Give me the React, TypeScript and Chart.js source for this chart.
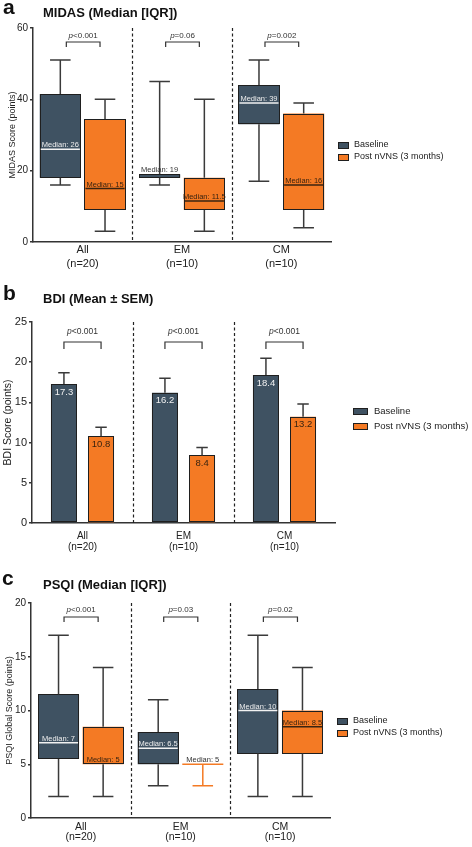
import React, { useEffect, useRef } from "react";
import { Chart, registerables } from "chart.js";

Chart.register(...registerables);

const FONT = "'Liberation Sans', Arial, Helvetica, sans-serif";
const TXT = "#222222";
const AXIS = "#333333";
const WHISKER = "#3a3a3a";
const BORDER = "#1f1f1f";

// ---------- shared ----------
const groupLabels = [
  ["All", "(n=20)"],
  ["EM", "(n=10)"],
  ["CM", "(n=10)"],
];
const seriesNames = ["Baseline", "Post nVNS (3 months)"];
const seriesColors = ["#3f5262", "#f47a24"];

// ---------- panel a: MIDAS (median [IQR]) ----------
const midasTicks = [0, 20, 40, 60];
const midasBaseMin = [16, 16, 17];
const midasBaseQ1 = [18, 18, 33];
const midasBaseMed = [26, 19, 39];
const midasBaseQ3 = [41.5, 19, 44];
const midasBaseMax = [51, 45, 51];
const midasPostMin = [3, 3, 4];
const midasPostQ1 = [9, 9, 9];
const midasPostMed = [15, 11.5, 16];
const midasPostQ3 = [34.5, 18, 36];
const midasPostMax = [40, 40, 39];
const midasP = ["<0.001", "=0.06", "=0.002"];

// ---------- panel b: BDI (mean ± SEM) ----------
const bdiTicks = [0, 5, 10, 15, 20, 25];
const bdiBaseMean = [17.3, 16.2, 18.4];
const bdiBaseSemTop = [18.7, 18.0, 20.5];
const bdiPostMean = [10.8, 8.4, 13.2];
const bdiPostSemTop = [11.9, 9.4, 14.8];
const bdiP = ["<0.001", "<0.001", "<0.001"];

// ---------- panel c: PSQI (median [IQR]) ----------
const psqiTicks = [0, 5, 10, 15, 20];
const psqiBaseMin = [2, 3, 2];
const psqiBaseQ1 = [5.5, 5, 6];
const psqiBaseMed = [7, 6.5, 10];
const psqiBaseQ3 = [11.5, 8, 12];
const psqiBaseMax = [17, 11, 17];
const psqiPostMin = [2, 3, 2];
const psqiPostQ1 = [5, 5, 6];
const psqiPostMed = [5, 5, 8.5];
const psqiPostQ3 = [8.5, 5, 10];
const psqiPostMax = [14, 5, 14];
const psqiP = ["<0.001", "=0.03", "=0.02"];

type Geom = {
  H: number;
  left: number;
  right: number;
  top: number;
  bottom: number;
};

type Deco = {
  letter: string;
  letterX: number;
  letterY: number;
  title: string;
  titleX: number;
  titleY: number;
  pVals: string[];
  pSize: number;
  pTextDy: number;
  bracketDy: number;
  bracketTick: number;
  insetL: number;
  insetR: number;
  legX: number;
  legY: number;
  legGap: number;
  legBoxW: number;
  legBoxH: number;
  legTextX: number;
  legSize: number;
};

type Fonts = {
  x: number;
  xLH: number;
  xPad: number;
  y: number;
  yt: number;
  ytPad: number;
};

function baseOptions(g: Geom, ticks: number[], yTitle: string, f: Fonts): any {
  return {
    responsive: false,
    animation: false,
    events: [],
    layout: { padding: { left: 0, top: g.top, right: 472 - g.right, bottom: 0 } },
    plugins: {
      legend: { display: false },
      tooltip: { enabled: false },
      title: { display: false },
    },
    scales: {
      x: {
        type: "category",
        offset: true,
        grid: { display: false, drawTicks: false },
        border: { display: true, color: AXIS, width: 1.5 },
        ticks: {
          color: TXT,
          font: { family: FONT, size: f.x, lineHeight: f.xLH },
          padding: f.xPad,
          maxRotation: 0,
          autoSkip: false,
        },
        afterFit: (s: any) => {
          s.height = g.H - g.bottom;
        },
      },
      y: {
        type: "linear",
        min: ticks[0],
        max: ticks[ticks.length - 1],
        afterBuildTicks: (s: any) => {
          s.ticks = ticks.map((v) => ({ value: v }));
        },
        ticks: { color: TXT, font: { family: FONT, size: f.y }, padding: 2 },
        grid: {
          drawOnChartArea: false,
          drawTicks: true,
          tickLength: 3,
          color: AXIS,
          lineWidth: 1.5,
        },
        border: { display: true, color: AXIS, width: 1.5 },
        title: {
          display: true,
          text: yTitle,
          color: TXT,
          font: { family: FONT, size: f.yt },
          padding: { top: f.ytPad, bottom: 0 },
        },
        afterFit: (s: any) => {
          s.width = g.left;
        },
      },
    },
  };
}

function drawP(ctx: CanvasRenderingContext2D, cx: number, cy: number, rest: string, size: number) {
  ctx.font = `italic ${size}px ${FONT}`;
  const wp = ctx.measureText("p").width;
  ctx.font = `${size}px ${FONT}`;
  const wr = ctx.measureText(rest).width;
  const x0 = cx - (wp + wr) / 2;
  ctx.textAlign = "left";
  ctx.textBaseline = "middle";
  ctx.fillStyle = "#333";
  ctx.font = `italic ${size}px ${FONT}`;
  ctx.fillText("p", x0, cy);
  ctx.font = `${size}px ${FONT}`;
  ctx.fillText(rest, x0 + wp, cy);
}

function outline(ctx: CanvasRenderingContext2D, el: any) {
  const l = Math.round(el.x - el.width / 2) + 0.5;
  const r = Math.round(el.x + el.width / 2) - 0.5;
  const t = Math.round(Math.min(el.y, el.base)) + 0.5;
  const b = Math.round(Math.max(el.y, el.base)) - 0.5;
  ctx.strokeStyle = BORDER;
  ctx.lineWidth = 1;
  ctx.setLineDash([]);
  ctx.strokeRect(l, t, r - l, Math.max(b - t, 0));
}

function decoPlugin(d: Deco) {
  return {
    id: "deco",
    beforeDatasetsDraw(chart: any) {
      const ctx = chart.ctx as CanvasRenderingContext2D;
      const xs = chart.scales.x;
      const ca = chart.chartArea;
      ctx.save();
      ctx.strokeStyle = "#222";
      ctx.lineWidth = 1.2;
      ctx.setLineDash([3, 2.5]);
      const n = chart.data.labels.length;
      for (let i = 0; i < n - 1; i++) {
        const x = Math.round(xs.getPixelForValue(i + 0.5)) + 0.5;
        ctx.beginPath();
        ctx.moveTo(x, ca.top);
        ctx.lineTo(x, ca.bottom);
        ctx.stroke();
      }
      ctx.restore();
    },
    afterDraw(chart: any) {
      const ctx = chart.ctx as CanvasRenderingContext2D;
      const ca = chart.chartArea;
      ctx.save();
      // panel letter + title
      ctx.fillStyle = "#111";
      ctx.textAlign = "left";
      ctx.textBaseline = "alphabetic";
      ctx.font = `bold 21px ${FONT}`;
      ctx.fillText(d.letter, d.letterX, d.letterY);
      ctx.font = `bold 13px ${FONT}`;
      ctx.fillText(d.title, d.titleX, d.titleY);

      // p-value brackets
      const m0 = chart.getDatasetMeta(0);
      const m1 = chart.getDatasetMeta(1);
      ctx.strokeStyle = "#333";
      ctx.lineWidth = 1.2;
      d.pVals.forEach((p, i) => {
        const x1 = m0.data[i].x + d.insetL;
        const x2 = m1.data[i].x - d.insetR;
        const yb = ca.top + d.bracketDy;
        ctx.beginPath();
        ctx.moveTo(x1, yb + d.bracketTick);
        ctx.lineTo(x1, yb);
        ctx.lineTo(x2, yb);
        ctx.lineTo(x2, yb + d.bracketTick);
        ctx.stroke();
        drawP(ctx, (x1 + x2) / 2, ca.top + d.pTextDy, p, d.pSize);
      });

      // legend
      chart.data.datasets.forEach((ds: any, i: number) => {
        const cy = Math.round(d.legY + i * d.legGap);
        const by = Math.round(cy - d.legBoxH / 2);
        ctx.fillStyle = seriesColors[i];
        ctx.fillRect(d.legX, by, d.legBoxW, d.legBoxH);
        ctx.strokeStyle = BORDER;
        ctx.lineWidth = 1;
        ctx.strokeRect(d.legX + 0.5, by + 0.5, d.legBoxW - 1, d.legBoxH - 1);
        ctx.fillStyle = "#222";
        ctx.font = `${d.legSize}px ${FONT}`;
        ctx.textBaseline = "middle";
        ctx.fillText(ds.label, d.legTextX, cy);
      });
      ctx.restore();
    },
  };
}

type BoxStats = { min: number[]; q1: number[]; med: number[]; q3: number[]; max: number[] };

function boxPlugin(stats: BoxStats[], labelSize: number) {
  return {
    id: "boxExtras",
    afterDatasetsDraw(chart: any) {
      const ctx = chart.ctx as CanvasRenderingContext2D;
      const ys = chart.scales.y;
      ctx.save();
      stats.forEach((s, di) => {
        const meta = chart.getDatasetMeta(di);
        const color = seriesColors[di];
        meta.data.forEach((el: any, i: number) => {
          const x = el.x;
          const w = el.width;
          const pMin = ys.getPixelForValue(s.min[i]);
          const pQ1 = ys.getPixelForValue(s.q1[i]);
          const pMed = ys.getPixelForValue(s.med[i]);
          const pQ3 = ys.getPixelForValue(s.q3[i]);
          const pMax = ys.getPixelForValue(s.max[i]);
          const degenerate = s.q1[i] === s.q3[i];
          if (!degenerate) outline(ctx, el);
          ctx.strokeStyle = degenerate ? color : WHISKER;
          ctx.lineWidth = 1.5;
          ctx.setLineDash([]);
          if (s.max[i] > s.q3[i]) {
            ctx.beginPath();
            ctx.moveTo(x, pQ3);
            ctx.lineTo(x, pMax);
            ctx.moveTo(x - w / 4, pMax);
            ctx.lineTo(x + w / 4, pMax);
            ctx.stroke();
          }
          if (s.min[i] < s.q1[i]) {
            ctx.beginPath();
            ctx.moveTo(x, pQ1);
            ctx.lineTo(x, pMin);
            ctx.moveTo(x - w / 4, pMin);
            ctx.lineTo(x + w / 4, pMin);
            ctx.stroke();
          }
          if (degenerate) {
            ctx.strokeStyle = color;
            ctx.beginPath();
            ctx.moveTo(x - w / 2, pMed);
            ctx.lineTo(x + w / 2, pMed);
            ctx.stroke();
          } else if (s.med[i] !== s.q1[i] && s.med[i] !== s.q3[i]) {
            ctx.strokeStyle = di === 0 ? "#f2f2f2" : "#3a2410";
            ctx.beginPath();
            ctx.moveTo(x - w / 2 + 1, pMed);
            ctx.lineTo(x + w / 2 - 1, pMed);
            ctx.stroke();
          }
          const inside = !degenerate && pMed - pQ3 >= 9;
          const ly = inside ? pMed - 2 : Math.min(pQ3, pMed) - 2;
          ctx.fillStyle = inside ? (di === 0 ? "#eeeeee" : "#3a2410") : "#333";
          ctx.font = `${labelSize}px ${FONT}`;
          ctx.textAlign = "center";
          ctx.textBaseline = "alphabetic";
          ctx.fillText(`Median: ${s.med[i]}`, x, ly);
        });
      });
      ctx.restore();
    },
  };
}

function errPlugin(semTops: number[][], labelSize: number) {
  return {
    id: "errExtras",
    afterDatasetsDraw(chart: any) {
      const ctx = chart.ctx as CanvasRenderingContext2D;
      const ys = chart.scales.y;
      ctx.save();
      semTops.forEach((tops, di) => {
        const meta = chart.getDatasetMeta(di);
        const vals = chart.data.datasets[di].data as number[];
        meta.data.forEach((el: any, i: number) => {
          const x = el.x;
          const w = el.width;
          outline(ctx, el);
          const pTop = ys.getPixelForValue(tops[i]);
          const pVal = ys.getPixelForValue(vals[i]);
          ctx.strokeStyle = WHISKER;
          ctx.lineWidth = 1.5;
          ctx.beginPath();
          ctx.moveTo(x, pVal);
          ctx.lineTo(x, pTop);
          ctx.moveTo(x - w * 0.22, pTop);
          ctx.lineTo(x + w * 0.22, pTop);
          ctx.stroke();
          ctx.fillStyle = di === 0 ? "#f2f2f2" : "#3a2410";
          ctx.font = `${labelSize}px ${FONT}`;
          ctx.textAlign = "center";
          ctx.textBaseline = "middle";
          ctx.fillText(vals[i].toFixed(1), x, pVal + 8);
        });
      });
      ctx.restore();
    },
  };
}

function boxDatasets(stats: BoxStats[], catPct: number, barPct: number) {
  return stats.map((s, di) => ({
    label: seriesNames[di],
    data: s.q1.map((q, i) => [q, s.q3[i]]),
    backgroundColor: seriesColors[di],
    borderWidth: 0,
    borderSkipped: false,
    categoryPercentage: catPct,
    barPercentage: barPct,
  }));
}

// ---------- configs ----------
const geomA: Geom = { H: 278, left: 33, right: 331, top: 28, bottom: 242 };
const geomB: Geom = { H: 278, left: 32, right: 335, top: 44, bottom: 245 };
const geomC: Geom = { H: 291, left: 31, right: 330, top: 47, bottom: 262 };

function configA(): any {
  const stats: BoxStats[] = [
    { min: midasBaseMin, q1: midasBaseQ1, med: midasBaseMed, q3: midasBaseQ3, max: midasBaseMax },
    { min: midasPostMin, q1: midasPostQ1, med: midasPostMed, q3: midasPostQ3, max: midasPostMax },
  ];
  return {
    type: "bar",
    data: { labels: groupLabels, datasets: boxDatasets(stats, 0.9, 0.92) },
    options: baseOptions(geomA, midasTicks, "MIDAS Score (points)", {
      x: 11, xLH: 1.25, xPad: 1, y: 10, yt: 9, ytPad: 7.5,
    }),
    plugins: [
      boxPlugin(stats, 7.5),
      decoPlugin({
        letter: "a", letterX: 3, letterY: 14,
        title: "MIDAS (Median [IQR])", titleX: 43, titleY: 17,
        pVals: midasP, pSize: 8, pTextDy: 8, bracketDy: 14, bracketTick: 5, insetL: 6, insetR: 5,
        legX: 338, legY: 145, legGap: 12, legBoxW: 11, legBoxH: 7, legTextX: 354, legSize: 9,
      }),
    ],
  };
}

function configB(): any {
  return {
    type: "bar",
    data: {
      labels: groupLabels,
      datasets: [
        {
          label: seriesNames[0], data: bdiBaseMean, backgroundColor: seriesColors[0],
          borderWidth: 0, categoryPercentage: 0.735, barPercentage: 0.7,
        },
        {
          label: seriesNames[1], data: bdiPostMean, backgroundColor: seriesColors[1],
          borderWidth: 0, categoryPercentage: 0.735, barPercentage: 0.7,
        },
      ],
    },
    options: baseOptions(geomB, bdiTicks, "BDI Score (points)", {
      x: 10, xLH: 1.15, xPad: 7, y: 11, yt: 10.5, ytPad: 2,
    }),
    plugins: [
      errPlugin([bdiBaseSemTop, bdiPostSemTop], 9.5),
      decoPlugin({
        letter: "b", letterX: 3, letterY: 22,
        title: "BDI (Mean \u00B1 SEM)", titleX: 43, titleY: 25,
        pVals: bdiP, pSize: 8.5, pTextDy: 10, bracketDy: 20, bracketTick: 7, insetL: 0, insetR: 0,
        legX: 353, legY: 133, legGap: 15, legBoxW: 15, legBoxH: 7, legTextX: 374, legSize: 9.5,
      }),
    ],
  };
}

function configC(): any {
  const stats: BoxStats[] = [
    { min: psqiBaseMin, q1: psqiBaseQ1, med: psqiBaseMed, q3: psqiBaseQ3, max: psqiBaseMax },
    { min: psqiPostMin, q1: psqiPostQ1, med: psqiPostMed, q3: psqiPostQ3, max: psqiPostMax },
  ];
  return {
    type: "bar",
    data: { labels: groupLabels, datasets: boxDatasets(stats, 0.895, 0.92) },
    options: baseOptions(geomC, psqiTicks, "PSQI Global Score (points)", {
      x: 10.5, xLH: 1.0, xPad: 3.5, y: 10, yt: 9, ytPad: 4.5,
    }),
    plugins: [
      boxPlugin(stats, 7.5),
      decoPlugin({
        letter: "c", letterX: 2, letterY: 29,
        title: "PSQI (Median [IQR])", titleX: 43, titleY: 33,
        pVals: psqiP, pSize: 8, pTextDy: 6.5, bracketDy: 14, bracketTick: 5, insetL: 5.5, insetR: 5,
        legX: 337, legY: 165, legGap: 12, legBoxW: 11, legBoxH: 7, legTextX: 353, legSize: 9,
      }),
    ],
  };
}

function ChartPanel({ top, height, make }: { top: number; height: number; make: () => any }) {
  const ref = useRef<HTMLCanvasElement>(null);
  useEffect(() => {
    if (!ref.current) return;
    const chart = new Chart(ref.current, make());
    return () => chart.destroy();
  }, [make]);
  return (
    <canvas
      ref={ref}
      width={472}
      height={height}
      style={{ position: "absolute", left: 0, top, width: 472, height, display: "block" }}
    />
  );
}

export default function App() {
  return (
    <div style={{ position: "absolute", left: 0, top: 0, width: 472, height: 847, background: "#fff" }}>
      <ChartPanel top={0} height={278} make={configA} />
      <ChartPanel top={278} height={278} make={configB} />
      <ChartPanel top={556} height={291} make={configC} />
    </div>
  );
}
